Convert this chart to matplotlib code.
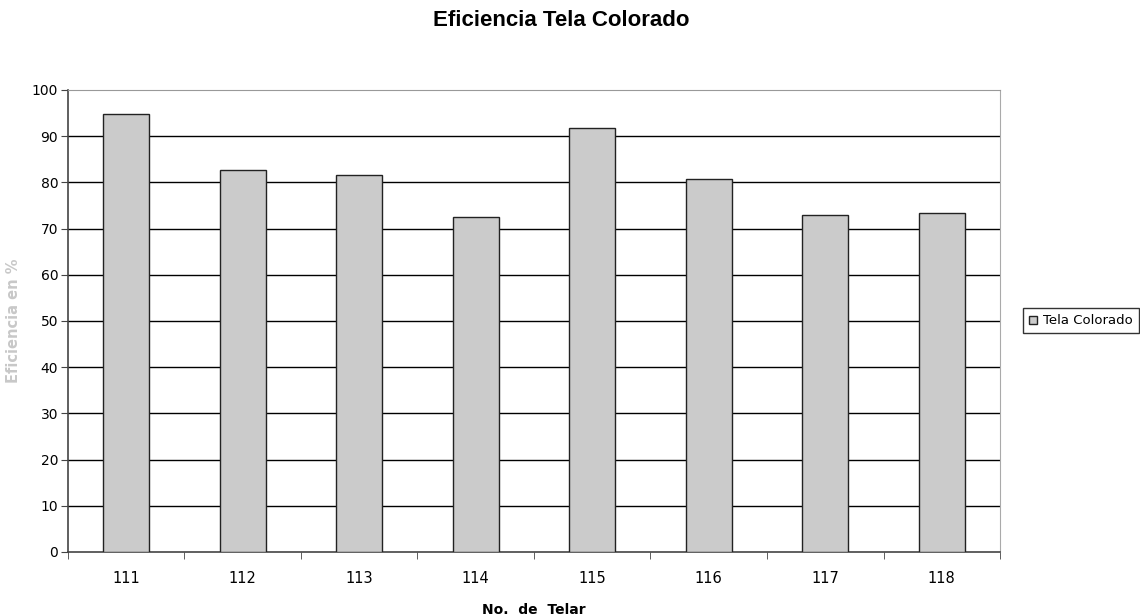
import matplotlib
matplotlib.use("Agg")
import matplotlib.pyplot as plt
import numpy as np

categories = ["111", "112", "113", "114", "115", "116", "117", "118"]
values = [94.7, 82.6, 81.6, 72.6, 91.8, 80.8, 73.0, 73.4]
series_name = "Tela Colorado"
yticks = [0, 10, 20, 30, 40, 50, 60, 70, 80, 90, 100]

fig = plt.figure(figsize=(11.4, 6.16), dpi=100)
ax = fig.add_axes([0.0596, 0.104, 0.8176, 0.750])

x = np.arange(len(categories))
ax.bar(x, values, width=0.395, color="#cbcbcb", edgecolor="#222222",
       linewidth=1.0, label=series_name, zorder=3)

ax.set_xlim(-0.5, len(categories) - 0.5)
ax.set_ylim(0, 100)
ax.set_yticks(yticks)
ax.set_yticklabels([str(t) for t in yticks], fontsize=10, family="DejaVu Sans")
for t in yticks[1:-1]:
    ax.axhline(t, color="#000000", linewidth=1.0, zorder=1)

# category labels centered, ticks at boundaries
ax.set_xticks(x)
ax.set_xticklabels(categories, fontsize=10.5, family="DejaVu Sans")
ax.tick_params(axis="x", length=0, pad=14)
ax.set_xticks(np.arange(-0.5, len(categories) + 0.5, 1.0), minor=True)
ax.tick_params(axis="x", which="minor", length=5, direction="out", color="#444444")
ax.tick_params(axis="y", length=5, direction="out", color="#444444", pad=2)

for side in ["left", "bottom"]:
    ax.spines[side].set_color("#444444")
    ax.spines[side].set_linewidth(1.2)
ax.spines["top"].set_color("#999999")
ax.spines["right"].set_color("#aaaaaa")

fig.text(0.4925, 0.966, "Eficiencia Tela Colorado", ha="center", va="center",
         fontsize=16, fontweight="bold", family="Liberation Sans")
ax.set_xlabel("No.  de  Telar", fontsize=10, fontweight="bold", labelpad=12,
              family="DejaVu Sans")
ax.set_ylabel("Eficiencia en %", fontsize=10.5, fontweight="bold", color="#c8c8c8",
              labelpad=8, family="DejaVu Sans")

leg = ax.legend(loc="center left", bbox_to_anchor=(1.0247, 0.5), fontsize=9.5,
                frameon=True, fancybox=False, handlelength=0.6, handleheight=0.6,
                handletextpad=0.5, borderpad=0.45, borderaxespad=0)
leg.get_frame().set_edgecolor("#000000")
leg.get_frame().set_linewidth(1.0)
for txt in leg.get_texts():
    txt.set_family("DejaVu Sans")

fig.savefig("out.png", dpi=100)
